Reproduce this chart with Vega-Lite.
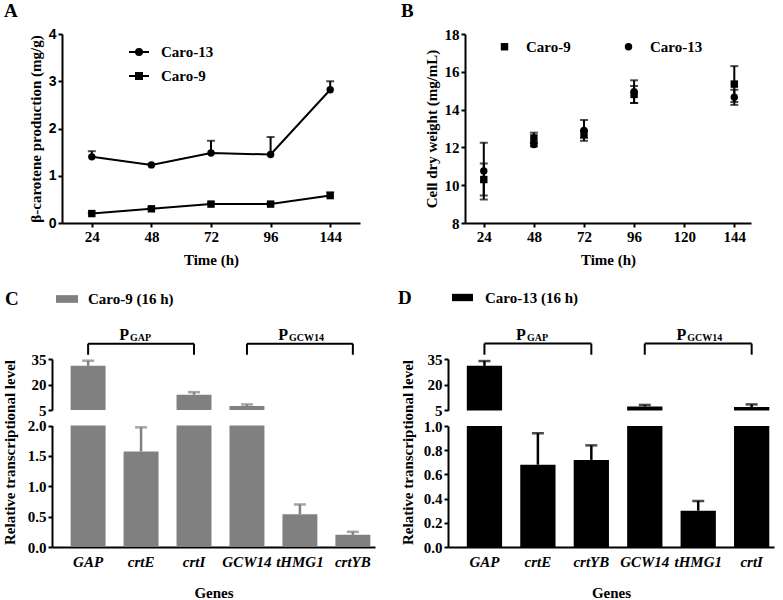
{
  "$schema": "https://vega.github.io/schema/vega-lite/v6.json",
  "padding": {"left": 2, "top": 2, "right": 5, "bottom": 2},
  "datasets": {
    "a": [
      {"strain": "Caro-13", "time": 24, "value": 1.40, "upper": 1.52},
      {"strain": "Caro-13", "time": 48, "value": 1.23, "upper": 1.25},
      {"strain": "Caro-13", "time": 72, "value": 1.48, "upper": 1.74},
      {"strain": "Caro-13", "time": 96, "value": 1.45, "upper": 1.82},
      {"strain": "Caro-13", "time": 144, "value": 2.82, "upper": 3.00},
      {"strain": "Caro-9", "time": 24, "value": 0.20, "upper": 0.21},
      {"strain": "Caro-9", "time": 48, "value": 0.30, "upper": 0.32},
      {"strain": "Caro-9", "time": 72, "value": 0.40, "upper": 0.43},
      {"strain": "Caro-9", "time": 96, "value": 0.40, "upper": 0.42},
      {"strain": "Caro-9", "time": 144, "value": 0.58, "upper": 0.65}
    ],
    "b": [
      {"strain": "Caro-9", "time": 24, "value": 10.3, "lower": 9.45, "upper": 11.15},
      {"strain": "Caro-9", "time": 48, "value": 12.5, "lower": 12.25, "upper": 12.78},
      {"strain": "Caro-9", "time": 72, "value": 12.7, "lower": 12.5, "upper": 12.9},
      {"strain": "Caro-9", "time": 96, "value": 14.8, "lower": 14.35, "upper": 15.25},
      {"strain": "Caro-9", "time": 144, "value": 15.35, "lower": 14.4, "upper": 16.3},
      {"strain": "Caro-13", "time": 24, "value": 10.75, "lower": 9.25, "upper": 12.25},
      {"strain": "Caro-13", "time": 48, "value": 12.15, "lower": 12.05, "upper": 12.25},
      {"strain": "Caro-13", "time": 72, "value": 12.9, "lower": 12.35, "upper": 13.45},
      {"strain": "Caro-13", "time": 96, "value": 14.95, "lower": 14.35, "upper": 15.55},
      {"strain": "Caro-13", "time": 144, "value": 14.65, "lower": 14.25, "upper": 15.05}
    ],
    "c": [
      {"strain": "Caro-9 (16 h)", "gene": "GAP", "value": 31, "upper": 34},
      {"strain": "Caro-9 (16 h)", "gene": "crtE", "value": 1.57, "upper": 1.97},
      {"strain": "Caro-9 (16 h)", "gene": "crtI", "value": 14, "upper": 15.5},
      {"strain": "Caro-9 (16 h)", "gene": "GCW14", "value": 7.3, "upper": 8.3},
      {"strain": "Caro-9 (16 h)", "gene": "tHMG1", "value": 0.54, "upper": 0.70},
      {"strain": "Caro-9 (16 h)", "gene": "crtYB", "value": 0.20, "upper": 0.25}
    ],
    "d": [
      {"strain": "Caro-13 (16 h)", "gene": "GAP", "value": 31, "upper": 33.8},
      {"strain": "Caro-13 (16 h)", "gene": "crtE", "value": 0.68, "upper": 0.94},
      {"strain": "Caro-13 (16 h)", "gene": "crtYB", "value": 0.72, "upper": 0.84},
      {"strain": "Caro-13 (16 h)", "gene": "GCW14", "value": 7.3, "upper": 8.2},
      {"strain": "Caro-13 (16 h)", "gene": "tHMG1", "value": 0.30, "upper": 0.38},
      {"strain": "Caro-13 (16 h)", "gene": "crtI", "value": 7.0, "upper": 8.5}
    ],
    "bc": [
      {"from": "GAP", "to": "crtI", "mid": "crtE", "sub": "GAP"},
      {"from": "GCW14", "to": "crtYB", "mid": "tHMG1", "sub": "GCW14"}
    ],
    "bd": [
      {"from": "GAP", "to": "crtYB", "mid": "crtE", "sub": "GAP"},
      {"from": "GCW14", "to": "crtI", "mid": "tHMG1", "sub": "GCW14"}
    ]
  },
  "spacing": 20,
  "resolve": {
    "scale": {"shape": "independent", "color": "independent"},
    "legend": {"shape": "independent", "color": "independent"}
  },
  "vconcat": [
    {
      "spacing": 41,
      "resolve": {
        "scale": {"shape": "independent", "color": "independent"},
        "legend": {"shape": "independent", "color": "independent"}
      },
      "hconcat": [
        {
          "title": {"text": "A", "dx": -58, "offset": 6},
          "width": 298,
          "height": 189,
          "data": {"name": "a"},
          "resolve": {"scale": {"shape": "independent"}, "legend": {"shape": "independent"}},
          "layer": [
            {
              "mark": {"type": "rule", "color": "black", "strokeWidth": 2},
              "encoding": {
                "x": {"field": "time", "type": "ordinal", "scale": {"type": "point", "padding": 0.5, "domain": [24, 48, 72, 96, 144]}, "axis": {"title": "Time (h)", "labelAngle": 0, "titlePadding": 8}},
                "y": {"field": "value", "type": "quantitative", "scale": {"domain": [0, 4], "nice": false}, "axis": {"values": [0, 1, 2, 3, 4], "tickCount": 20, "format": "d", "labelFont": "Liberation Sans", "labelFontSize": 14, "title": "β-carotene production (mg/g)", "titlePadding": 5}},
                "y2": {"field": "upper"}
              }
            },
            {
              "mark": {"type": "tick", "color": "black", "size": 8, "thickness": 2, "orient": "horizontal"},
              "encoding": {
                "x": {"field": "time", "type": "ordinal"},
                "y": {"field": "upper", "type": "quantitative"}
              }
            },
            {
              "mark": {"type": "line", "color": "black", "strokeWidth": 2},
              "encoding": {
                "x": {"field": "time", "type": "ordinal"},
                "y": {"field": "value", "type": "quantitative"},
                "detail": {"field": "strain"}
              }
            },
            {
              "mark": {"type": "point", "filled": true, "size": 55, "color": "black", "opacity": 1},
              "encoding": {
                "x": {"field": "time", "type": "ordinal"},
                "y": {"field": "value", "type": "quantitative"},
                "shape": {"field": "strain", "type": "nominal", "scale": {"domain": ["Caro-13", "Caro-9"], "range": ["circle", "square"]}, "legend": null}
              }
            },
            {
              "mark": {"type": "point", "filled": false, "size": 0, "color": "black", "strokeWidth": 2, "opacity": 1},
              "encoding": {
                "x": {"field": "time", "type": "ordinal"},
                "y": {"field": "value", "type": "quantitative"},
                "shape": {
                  "field": "strain", "type": "nominal",
                  "scale": {"domain": ["Caro-13", "Caro-9"], "range": [
                    "M-1,0H1M-0.3,0A0.3,0.3 0 1,0 0.3,0A0.3,0.3 0 1,0 -0.3,0M-0.15,0A0.15,0.15 0 1,0 0.15,0A0.15,0.15 0 1,0 -0.15,0M-0.05,0H0.05",
                    "M-1,0H1M-0.3,-0.3H0.3V0.3H-0.3ZM-0.12,-0.12H0.12V0.12H-0.12Z"
                  ]},
                  "legend": {
                    "orient": "none", "legendX": 66, "legendY": 7, "title": null,
                    "symbolSize": 400, "labelOffset": 11, "rowPadding": 5, "labelFontSize": 15,
                    "symbolStrokeColor": "black", "symbolStrokeWidth": 2,
                    "encode": {"symbols": {"update": {
                      "size": {"value": 400},
                      "strokeWidth": {"value": 2},
                      "opacity": {"value": 1}
                    }}}
                  }
                }
              }
            }
          ]
        },
        {
          "title": {"text": "B", "dx": -64, "offset": 6},
          "width": 286,
          "height": 189,
          "data": {"name": "b"},
          "layer": [
            {
              "mark": {"type": "rule", "color": "black", "strokeWidth": 2},
              "encoding": {
                "x": {"field": "time", "type": "quantitative", "scale": {"domain": [15, 152], "nice": false, "zero": false}, "axis": {"values": [24, 48, 72, 96, 120, 144], "tickCount": 20, "format": "d", "title": "Time (h)", "titlePadding": 8}},
                "y": {"field": "lower", "type": "quantitative", "scale": {"domain": [8, 18], "nice": false, "zero": false}, "axis": {"values": [8, 10, 12, 14, 16, 18], "tickCount": 20, "format": "d", "title": "Cell dry weight (mg/mL)", "titlePadding": 5}},
                "y2": {"field": "upper"}
              }
            },
            {
              "mark": {"type": "tick", "color": "black", "size": 8, "thickness": 2, "orient": "horizontal"},
              "encoding": {
                "x": {"field": "time", "type": "quantitative"},
                "y": {"field": "lower", "type": "quantitative"}
              }
            },
            {
              "mark": {"type": "tick", "color": "black", "size": 8, "thickness": 2, "orient": "horizontal"},
              "encoding": {
                "x": {"field": "time", "type": "quantitative"},
                "y": {"field": "upper", "type": "quantitative"}
              }
            },
            {
              "mark": {"type": "point", "filled": true, "size": 55, "color": "black", "opacity": 1},
              "encoding": {
                "x": {"field": "time", "type": "quantitative"},
                "y": {"field": "value", "type": "quantitative"},
                "shape": {
                  "field": "strain", "type": "nominal",
                  "scale": {"domain": ["Caro-9", "Caro-13"], "range": ["square", "circle"]},
                  "legend": {
                    "orient": "none", "direction": "horizontal", "legendX": 32, "legendY": 5, "title": null,
                    "symbolSize": 55, "labelOffset": 14, "columnPadding": 50, "labelFontSize": 15,
                    "symbolFillColor": "black", "symbolStrokeWidth": 0
                  }
                }
              }
            }
          ]
        }
      ]
    },
    {
      "spacing": 13,
      "resolve": {
        "scale": {"shape": "independent", "color": "independent"},
        "legend": {"shape": "independent", "color": "independent"}
      },
      "hconcat": [
        {
          "title": {"text": "C", "dx": -57, "offset": 0, "dy": 21},
          "width": 313,
          "height": 188,
          "data": {"name": "c"},
          "resolve": {"scale": {"y": "independent"}},
          "layer": [
            {
              "layer": [
                {
                  "mark": {"type": "bar"},
                  "encoding": {
                    "x": {"field": "gene", "type": "nominal", "scale": {"type": "band", "domain": ["GAP", "crtE", "crtI", "GCW14", "tHMG1", "crtYB"], "range": [-10, 313], "paddingInner": 0.34, "paddingOuter": 0.22, "align": 0.8}, "axis": {"title": "Genes", "labelAngle": 0, "ticks": false, "labelFontStyle": "italic", "labelPadding": 7, "titlePadding": 16}},
                    "y": {"field": "value", "type": "quantitative", "scale": {"domain": [5, 35], "range": [51, 0], "clamp": true, "nice": false, "zero": false}, "axis": {"orient": "left", "offset": 10, "values": [5, 20, 35], "tickCount": 20, "format": "d", "title": null}},
                    "y2": {"datum": 5},
                    "color": {
                      "field": "strain", "type": "nominal", "scale": {"range": ["#808080"]},
                      "legend": {"orient": "none", "legendX": -6, "legendY": -71, "title": null, "symbolType": "M-1,-0.35H1V0.35H-1Z", "symbolSize": 484, "symbolStrokeWidth": 0, "labelOffset": 10, "labelFontSize": 15}
                    }
                  }
                },
                {
                  "transform": [{"filter": "datum.value > 5"}],
                  "mark": {"type": "rule", "color": "#808080", "strokeWidth": 2.5},
                  "encoding": {
                    "x": {"field": "gene", "type": "nominal"},
                    "y": {"field": "value", "type": "quantitative"},
                    "y2": {"field": "upper"}
                  }
                },
                {
                  "transform": [{"filter": "datum.value > 5"}],
                  "mark": {"type": "tick", "color": "#808080", "size": 12, "thickness": 2.5, "orient": "horizontal"},
                  "encoding": {
                    "x": {"field": "gene", "type": "nominal"},
                    "y": {"field": "upper", "type": "quantitative"}
                  }
                }
              ]
            },
            {
              "layer": [
                {
                  "mark": {"type": "bar", "color": "#808080"},
                  "encoding": {
                    "x": {"field": "gene", "type": "nominal"},
                    "y": {"field": "value", "type": "quantitative", "scale": {"domain": [0, 2], "range": [188, 66.5], "clamp": true, "nice": false}, "axis": {"orient": "left", "offset": 10, "values": [0, 0.5, 1, 1.5, 2], "tickCount": 20, "format": ".1f", "title": "Relative transcriptional level", "titleY": 93, "titlePadding": 9.5}},
                    "y2": {"datum": 0}
                  }
                },
                {
                  "transform": [{"filter": "datum.upper <= 2"}],
                  "mark": {"type": "rule", "color": "#808080", "strokeWidth": 2.5},
                  "encoding": {
                    "x": {"field": "gene", "type": "nominal"},
                    "y": {"field": "value", "type": "quantitative"},
                    "y2": {"field": "upper"}
                  }
                },
                {
                  "transform": [{"filter": "datum.upper <= 2"}],
                  "mark": {"type": "tick", "color": "#808080", "size": 12, "thickness": 2.5, "orient": "horizontal"},
                  "encoding": {
                    "x": {"field": "gene", "type": "nominal"},
                    "y": {"field": "upper", "type": "quantitative"}
                  }
                }
              ]
            },
            {
              "data": {"name": "bc"},
              "layer": [
                {
                  "mark": {"type": "rule", "color": "black", "strokeWidth": 2},
                  "encoding": {
                    "x": {"field": "from", "type": "nominal"},
                    "x2": {"field": "to"},
                    "y": {"datum": 44, "type": "quantitative", "scale": {"domain": [5, 35], "range": [51, 0], "nice": false, "zero": false}, "axis": null}
                  }
                },
                {
                  "mark": {"type": "rule", "color": "black", "strokeWidth": 2},
                  "encoding": {
                    "x": {"field": "from", "type": "nominal"},
                    "y": {"datum": 44, "type": "quantitative"},
                    "y2": {"datum": 37.5}
                  }
                },
                {
                  "mark": {"type": "rule", "color": "black", "strokeWidth": 2},
                  "encoding": {
                    "x": {"field": "to", "type": "nominal"},
                    "y": {"datum": 44, "type": "quantitative"},
                    "y2": {"datum": 37.5}
                  }
                },
                {
                  "mark": {"type": "text", "text": "P", "align": "right", "dx": -12, "fontSize": 16, "fontWeight": "bold", "baseline": "alphabetic"},
                  "encoding": {
                    "x": {"field": "mid", "type": "nominal"},
                    "y": {"datum": 46, "type": "quantitative"}
                  }
                },
                {
                  "mark": {"type": "text", "align": "left", "dx": -11, "dy": 1, "fontSize": 10, "fontWeight": "bold", "baseline": "alphabetic"},
                  "encoding": {
                    "x": {"field": "mid", "type": "nominal"},
                    "y": {"datum": 46, "type": "quantitative"},
                    "text": {"field": "sub"}
                  }
                }
              ]
            }
          ]
        },
        {
          "title": {"text": "D", "dx": -50, "offset": 0, "dy": 21},
          "width": 326,
          "height": 188,
          "data": {"name": "d"},
          "resolve": {"scale": {"y": "independent"}},
          "layer": [
            {
              "layer": [
                {
                  "mark": {"type": "bar"},
                  "encoding": {
                    "x": {"field": "gene", "type": "nominal", "scale": {"type": "band", "domain": ["GAP", "crtE", "crtYB", "GCW14", "tHMG1", "crtI"], "paddingInner": 0.34, "paddingOuter": 0.22, "align": 0.8}, "axis": {"title": "Genes", "labelAngle": 0, "ticks": false, "labelFontStyle": "italic", "labelPadding": 7, "titlePadding": 16}},
                    "y": {"field": "value", "type": "quantitative", "scale": {"domain": [5, 35], "range": [51.4, 0], "clamp": true, "nice": false, "zero": false}, "axis": {"orient": "left", "values": [5, 20, 35], "tickCount": 20, "format": "d", "title": null}},
                    "y2": {"datum": 5},
                    "color": {
                      "field": "strain", "type": "nominal", "scale": {"range": ["black"]},
                      "legend": {"orient": "none", "legendX": 4, "legendY": -72, "title": null, "symbolType": "M-1,-0.35H1V0.35H-1Z", "symbolSize": 441, "symbolStrokeWidth": 0, "labelOffset": 12, "labelFontSize": 15}
                    }
                  }
                },
                {
                  "transform": [{"filter": "datum.value > 5"}],
                  "mark": {"type": "rule", "color": "black", "strokeWidth": 2.5},
                  "encoding": {
                    "x": {"field": "gene", "type": "nominal"},
                    "y": {"field": "value", "type": "quantitative"},
                    "y2": {"field": "upper"}
                  }
                },
                {
                  "transform": [{"filter": "datum.value > 5"}],
                  "mark": {"type": "tick", "color": "black", "size": 12, "thickness": 2.5, "orient": "horizontal"},
                  "encoding": {
                    "x": {"field": "gene", "type": "nominal"},
                    "y": {"field": "upper", "type": "quantitative"}
                  }
                }
              ]
            },
            {
              "layer": [
                {
                  "mark": {"type": "bar", "color": "black"},
                  "encoding": {
                    "x": {"field": "gene", "type": "nominal"},
                    "y": {"field": "value", "type": "quantitative", "scale": {"domain": [0, 1], "range": [188, 67], "clamp": true, "nice": false}, "axis": {"orient": "left", "values": [0, 0.2, 0.4, 0.6, 0.8, 1], "tickCount": 20, "format": ".1f", "title": "Relative transcriptional level", "titleY": 93, "titlePadding": 8}},
                    "y2": {"datum": 0}
                  }
                },
                {
                  "transform": [{"filter": "datum.upper <= 1"}],
                  "mark": {"type": "rule", "color": "black", "strokeWidth": 2.5},
                  "encoding": {
                    "x": {"field": "gene", "type": "nominal"},
                    "y": {"field": "value", "type": "quantitative"},
                    "y2": {"field": "upper"}
                  }
                },
                {
                  "transform": [{"filter": "datum.upper <= 1"}],
                  "mark": {"type": "tick", "color": "black", "size": 12, "thickness": 2.5, "orient": "horizontal"},
                  "encoding": {
                    "x": {"field": "gene", "type": "nominal"},
                    "y": {"field": "upper", "type": "quantitative"}
                  }
                }
              ]
            },
            {
              "data": {"name": "bd"},
              "layer": [
                {
                  "mark": {"type": "rule", "color": "black", "strokeWidth": 2},
                  "encoding": {
                    "x": {"field": "from", "type": "nominal"},
                    "x2": {"field": "to"},
                    "y": {"datum": 44, "type": "quantitative", "scale": {"domain": [5, 35], "range": [51.4, 0], "nice": false, "zero": false}, "axis": null}
                  }
                },
                {
                  "mark": {"type": "rule", "color": "black", "strokeWidth": 2},
                  "encoding": {
                    "x": {"field": "from", "type": "nominal"},
                    "y": {"datum": 44, "type": "quantitative"},
                    "y2": {"datum": 37.5}
                  }
                },
                {
                  "mark": {"type": "rule", "color": "black", "strokeWidth": 2},
                  "encoding": {
                    "x": {"field": "to", "type": "nominal"},
                    "y": {"datum": 44, "type": "quantitative"},
                    "y2": {"datum": 37.5}
                  }
                },
                {
                  "mark": {"type": "text", "text": "P", "align": "right", "dx": -12, "fontSize": 16, "fontWeight": "bold", "baseline": "alphabetic"},
                  "encoding": {
                    "x": {"field": "mid", "type": "nominal"},
                    "y": {"datum": 46, "type": "quantitative"}
                  }
                },
                {
                  "mark": {"type": "text", "align": "left", "dx": -11, "dy": 1, "fontSize": 10, "fontWeight": "bold", "baseline": "alphabetic"},
                  "encoding": {
                    "x": {"field": "mid", "type": "nominal"},
                    "y": {"datum": 46, "type": "quantitative"},
                    "text": {"field": "sub"}
                  }
                }
              ]
            }
          ]
        }
      ]
    }
  ],
  "config": {
    "font": "Liberation Serif",
    "view": {"stroke": null},
    "axis": {
      "labelFont": "Liberation Serif", "labelFontSize": 15, "labelFontWeight": "bold", "labelColor": "black",
      "titleFont": "Liberation Serif", "titleFontSize": 15, "titleFontWeight": "bold", "titleColor": "black",
      "domainColor": "black", "domainWidth": 2, "tickColor": "black", "tickWidth": 2, "tickSize": 4,
      "grid": false, "labelPadding": 2, "labelOverlap": false
    },
    "legend": {"labelFont": "Liberation Serif", "labelFontSize": 15, "labelFontWeight": "bold", "labelColor": "black"},
    "title": {"font": "Liberation Serif", "fontSize": 19, "fontWeight": "bold", "color": "black", "anchor": "start", "frame": "group"},
    "text": {"font": "Liberation Serif", "color": "black"}
  }
}
